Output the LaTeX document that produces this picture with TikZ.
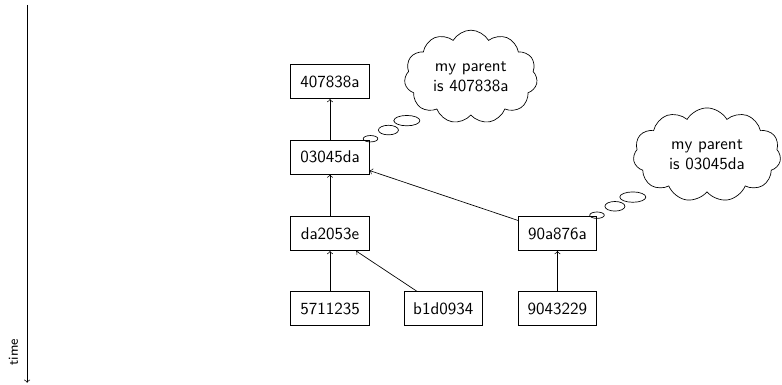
\documentclass[tikz,border=0pt]{standalone}
\usepackage{tikz}
\usetikzlibrary{arrows,shapes,shapes.symbols}

\tikzset{
  commit/.style={draw, minimum width=1.62cm, minimum height=0.70cm, inner sep=2pt},
  thought/.style={cloud, draw, align=center, cloud puffs=11, cloud puff arc=120, aspect=1.6}
}

\begin{document}
\begin{tikzpicture}[font=\sffamily]
            \useasboundingbox (0,0) rectangle (16.16,-7.95);

            % time axis
            \coordinate (ttop) at (0.56,-0.10);
            \coordinate (tbot) at (0.56,-7.91);
            \draw[->] (ttop) -- (tbot);
            \node[rotate=90, font=\sffamily\footnotesize] (tlabel) at (0.28,-7.28) {time};

            % commits
            \node[commit] (c407) at (6.82,-1.69) {407838a};
            \node[commit] (c030) at (6.82,-3.25) {03045da};
            \node[commit] (cda2) at (6.82,-4.83) {da2053e};
            \node[commit] (c571) at (6.82,-6.38) {5711235};
            \node[commit] (cb1d) at (9.16,-6.38) {b1d0934};
            \node[commit] (c90a) at (11.52,-4.83) {90a876a};
            \node[commit] (c904) at (11.52,-6.38) {9043229};

            % parent links
            \draw[->] (c030) -- (c407);
            \draw[->] (cda2) -- (c030);
            \draw[->] (c571) -- (cda2);
            \draw[->] (cb1d) -- (cda2);
            \draw[->] (c90a) -- (c030);
            \draw[->] (c904) -- (c90a);

            % thoughts
            \node[thought, minimum width=2.75cm, minimum height=1.80cm] (think1) at (9.73,-1.59)
                  {my parent\\is 407838a};
            \node[thought, minimum width=3.05cm, minimum height=1.76cm] (think2) at (14.61,-3.20)
                  {my parent\\is 03045da};

            % thought bubbles
            \draw ([shift={(0.02,0.026)}]c030.north east) ellipse (0.151 and 0.066);
            \draw ([shift={(0.39,0.205)}]c030.north east) ellipse (0.207 and 0.099);
            \draw ([shift={(0.77,0.40)}]c030.north east) ellipse (0.269 and 0.107);
            \draw ([shift={(0.0,0.026)}]c90a.north east) ellipse (0.151 and 0.066);
            \draw ([shift={(0.37,0.21)}]c90a.north east) ellipse (0.207 and 0.099);
            \draw ([shift={(0.74,0.40)}]c90a.north east) ellipse (0.269 and 0.107);
\end{tikzpicture}
\end{document}
